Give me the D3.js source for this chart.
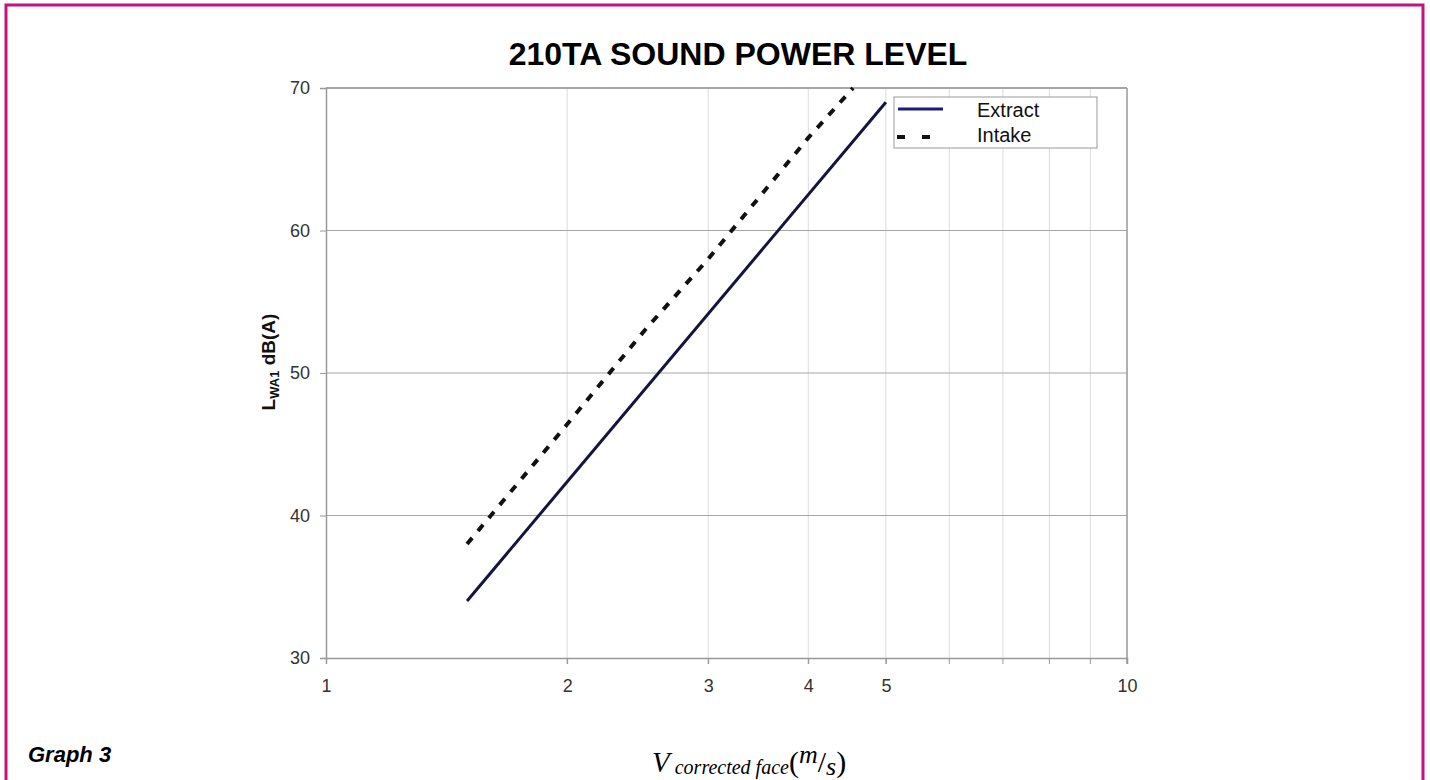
<!DOCTYPE html>
<html>
<head>
<meta charset="utf-8">
<script src="https://cdn.jsdelivr.net/npm/d3@7"></script>
<style>
  body { margin: 0; background: #fff; }
  svg { display: block; font-family: "Liberation Sans", Arial, sans-serif; }
</style>
</head>
<body>
<div id="chart"></div>
<script>
// data
var title = "210TA SOUND POWER LEVEL"
var xTicks = [1, 2, 3, 4, 5, 10]
var xGrid = [2, 3, 4, 5, 6, 7, 8, 9]
var yTicks = [30, 40, 50, 60, 70]
var seriesNames = ["Extract", "Intake"]
var extractV = [1.5, 5]
var extractL = [34, 69]
var intakeV = [1.5, 2, 2.5, 3, 4, 4.55]
var intakeL = [38, 46.4, 53, 58, 66.5, 70]

var W = 1430, H = 780
var margin = { left: 326, right: 303, top: 88, bottom: 122 }
var pw = W - margin.left - margin.right,
    ph = H - margin.top - margin.bottom

var svg = d3.select("#chart").append("svg")
    .attr("width", W)
    .attr("height", H)

// magenta frame
svg.append("rect")
    .attr("x", 6).attr("y", 5)
    .attr("width", 1417).attr("height", 800)
    .attr("fill", "none")
    .attr("stroke", "#c2137c")
    .attr("stroke-width", 3)

var x = d3.scaleLog().domain([1, 10]).range([0, pw])
var y = d3.scaleLinear().domain([30, 70]).range([ph, 0])

var g = svg.append("g").attr("transform", "translate(" + margin.left + "," + margin.top + ")")

// vertical grid (light)
g.selectAll(".vg").data(xGrid).enter().append("line")
    .attr("x1", d => x(d)).attr("x2", d => x(d))
    .attr("y1", 0).attr("y2", ph)
    .attr("stroke", "#dcdcdc").attr("stroke-width", 1)

// horizontal grid (darker)
g.selectAll(".hg").data(yTicks.slice(1)).enter().append("line")
    .attr("x1", 0).attr("x2", pw)
    .attr("y1", d => y(d)).attr("y2", d => y(d))
    .attr("stroke", "#a6a6a6").attr("stroke-width", 1)

// axes
var yAxis = d3.axisLeft(y).tickValues(yTicks).tickSize(6).tickPadding(10).tickFormat(d3.format("d"))
var xAxis = d3.axisBottom(x).tickValues(xTicks).tickSize(6).tickPadding(15).tickFormat(d3.format("d"))

var ya = g.append("g").call(yAxis)
var xa = g.append("g").attr("transform", "translate(0," + ph + ")").call(xAxis)
;[ya, xa].forEach(function (a) {
    a.attr("font-size", 18).attr("font-family", "Liberation Sans, Arial, sans-serif")
    a.select(".domain").attr("stroke", "#999").attr("stroke-width", 1.5)
    a.selectAll(".tick line").attr("stroke", "#999")
    a.selectAll(".tick text").attr("fill", "#333")
})
// small ticks on x axis for the grid values
xa.selectAll(".minor").data(xGrid).enter().append("line")
    .attr("x1", d => x(d)).attr("x2", d => x(d))
    .attr("y1", 0).attr("y2", 6)
    .attr("stroke", "#999")
// right and top border of plot
g.append("line")
    .attr("x1", pw).attr("x2", pw).attr("y1", 0).attr("y2", ph + 6)
    .attr("stroke", "#999").attr("stroke-width", 1.5)
g.append("line")
    .attr("x1", 0).attr("x2", pw).attr("y1", 0).attr("y2", 0)
    .attr("stroke", "#999").attr("stroke-width", 1.5)

var line = d3.line().x(d => x(d[0])).y(d => y(d[1]))

g.append("path")
    .datum(d3.zip(extractV, extractL))
    .attr("d", line)
    .attr("fill", "none")
    .attr("stroke", "#14143c")
    .attr("stroke-width", 3)

g.append("path")
    .datum(d3.zip(intakeV, intakeL))
    .attr("d", line)
    .attr("fill", "none")
    .attr("stroke", "#111")
    .attr("stroke-width", 4)
    .attr("stroke-dasharray", "8,9")

// legend
var lg = svg.append("g").attr("transform", "translate(894,97)")
lg.append("rect")
    .attr("width", 203).attr("height", 51)
    .attr("fill", "#fff").attr("stroke", "#999").attr("stroke-width", 1)
lg.append("line").attr("x1", 4).attr("x2", 49).attr("y1", 12).attr("y2", 12)
    .attr("stroke", "#1c1c7a").attr("stroke-width", 3)
lg.append("line").attr("x1", 3).attr("x2", 49).attr("y1", 40).attr("y2", 40)
    .attr("stroke", "#111").attr("stroke-width", 4).attr("stroke-dasharray", "8,17")
lg.selectAll("text").data(seriesNames).enter().append("text")
    .attr("x", 83).attr("y", (d, i) => 20 + i * 25)
    .attr("font-size", 20).attr("fill", "#111")
    .text(d => d)

// title
svg.append("text")
    .attr("x", 738).attr("y", 65)
    .attr("text-anchor", "middle")
    .attr("font-size", 32).attr("font-weight", "bold")
    .text(title)

// y axis label
var yl = svg.append("text")
    .attr("transform", "translate(275,362) rotate(-90)")
    .attr("text-anchor", "middle")
    .attr("font-size", 19).attr("font-weight", "bold").attr("fill", "#111")
yl.append("tspan").text("L")
yl.append("tspan").attr("font-size", 13).attr("dy", 4).text("WA1")
yl.append("tspan").attr("dy", -4).text(" dB(A)")

// x axis label
var xl = svg.append("text")
    .attr("x", 652).attr("y", 772)
    .attr("font-family", "Liberation Serif, DejaVu Serif, serif")
    .attr("font-style", "italic")
    .attr("font-size", 29).attr("fill", "#000")
xl.append("tspan").text("V")
xl.append("tspan").attr("font-size", 20).attr("dy", 2).text(" corrected face")
xl.append("tspan").attr("font-style", "normal").attr("dy", -2).attr("font-size", 30).text("(")
xl.append("tspan").attr("font-size", 26).attr("dy", -9).text("m")
xl.append("tspan").attr("font-style", "normal").attr("font-size", 30).attr("dy", 9).text("/")
xl.append("tspan").attr("font-size", 26).attr("dy", 3).text("s")
xl.append("tspan").attr("font-style", "normal").attr("font-size", 30).attr("dy", -3).text(")")

// caption
svg.append("text")
    .attr("x", 28).attr("y", 762)
    .attr("font-size", 22).attr("font-weight", "bold").attr("font-style", "italic")
    .text("Graph 3")
</script>
</body>
</html>
